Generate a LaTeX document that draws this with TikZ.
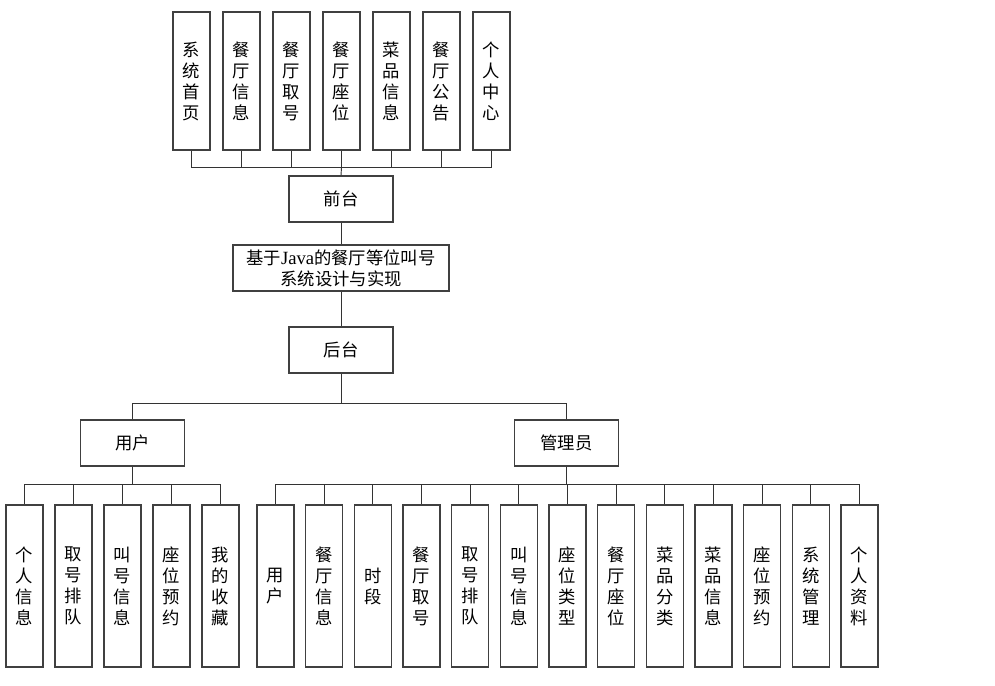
\documentclass[tikz,border=0pt]{standalone}
\usepackage{fontspec}
\setmainfont{Liberation Serif}
\newfontfamily\cjk{Noto Sans CJK SC}
\tikzset{
  box/.style={draw=black!75, line width=0.8pt, fill=white, align=center, inner sep=0pt,
    font=\cjk\fontsize{13}{15.75}\selectfont},
  tallbox/.style={box, minimum width=27.75pt, minimum height=103.5pt},
  lowbox/.style={box, minimum width=27.75pt, minimum height=121.5pt},
  widebox/.style={box, minimum width=78pt, minimum height=34.5pt},
  link/.style={draw=black!80, line width=0.7pt}
}
\begin{document}
\begin{tikzpicture}[x=0.75pt,y=-0.75pt]
\useasboundingbox (0,0) rectangle (995,685);
% front end
\node[tallbox] (xtsy) at (191.5,81) {系\\统\\首\\页};
\node[tallbox] (ctxx) at (241.5,81) {餐\\厅\\信\\息};
\node[tallbox] (ctqh) at (291.5,81) {餐\\厅\\取\\号};
\node[tallbox] (ctzw) at (341.5,81) {餐\\厅\\座\\位};
\node[tallbox] (cpxx) at (391.5,81) {菜\\品\\信\\息};
\node[tallbox] (ctgg) at (441.5,81) {餐\\厅\\公\\告};
\node[tallbox] (grzx) at (491.5,81) {个\\人\\中\\心};
\node[widebox] (qt) at (341,199) {前台};
\node[box, minimum width=162pt, minimum height=34.5pt] (sys) at (341,268)
  {基于{\rmfamily\fontsize{14}{15.75}\selectfont Java}的餐厅等位叫号\\系统设计与实现};
\node[widebox] (ht) at (341,350) {后台};
\node[widebox] (yh) at (132.5,443) {用户};
\node[widebox] (gly) at (566.5,443) {管理员};
% user
\node[lowbox] (u1) at (24.5,586) {个\\人\\信\\息};
\node[lowbox] (u2) at (73.5,586) {取\\号\\排\\队};
\node[lowbox] (u3) at (122.5,586) {叫\\号\\信\\息};
\node[lowbox] (u4) at (171.5,586) {座\\位\\预\\约};
\node[lowbox] (u5) at (220.5,586) {我\\的\\收\\藏};
% admin
\node[lowbox] (a1) at (275.5,586) {用\\户};
\node[lowbox] (a2) at (324.2,586) {餐\\厅\\信\\息};
\node[lowbox] (a3) at (372.8,586) {时\\段};
\node[lowbox] (a4) at (421.5,586) {餐\\厅\\取\\号};
\node[lowbox] (a5) at (470.2,586) {取\\号\\排\\队};
\node[lowbox] (a6) at (518.8,586) {叫\\号\\信\\息};
\node[lowbox] (a7) at (567.5,586) {座\\位\\类\\型};
\node[lowbox] (a8) at (616.2,586) {餐\\厅\\座\\位};
\node[lowbox] (a9) at (664.8,586) {菜\\品\\分\\类};
\node[lowbox] (a10) at (713.5,586) {菜\\品\\信\\息};
\node[lowbox] (a11) at (762.2,586) {座\\位\\预\\约};
\node[lowbox] (a12) at (810.8,586) {系\\统\\管\\理};
\node[lowbox] (a13) at (859.5,586) {个\\人\\资\\料};
% bus points
\coordinate (tb) at (341.5,167);
\coordinate (hb) at (341,403);
\coordinate (ub) at (132.5,484);
\coordinate (ab) at (566.5,484);
% links
\draw[link] (xtsy.south) |- (tb);
\draw[link] (ctxx.south) |- (tb);
\draw[link] (ctqh.south) |- (tb);
\draw[link] (ctzw.south) -- (tb);
\draw[link] (cpxx.south) |- (tb);
\draw[link] (ctgg.south) |- (tb);
\draw[link] (grzx.south) |- (tb);
\draw[link] (tb) -- (qt.north);
\draw[link] (qt) -- (sys);
\draw[link] (sys) -- (ht);
\draw[link] (ht.south) -- (hb);
\draw[link] (hb) -| (yh.north);
\draw[link] (hb) -| (gly.north);
\draw[link] (yh.south) -- (ub);
\draw[link] (ub) -| (u1.north);
\draw[link] (ub) -| (u2.north);
\draw[link] (ub) -| (u3.north);
\draw[link] (ub) -| (u4.north);
\draw[link] (ub) -| (u5.north);
\draw[link] (gly.south) -- (ab);
\draw[link] (ab) -| (a1.north);
\draw[link] (ab) -| (a2.north);
\draw[link] (ab) -| (a3.north);
\draw[link] (ab) -| (a4.north);
\draw[link] (ab) -| (a5.north);
\draw[link] (ab) -| (a6.north);
\draw[link] (ab) -| (a7.north);
\draw[link] (ab) -| (a8.north);
\draw[link] (ab) -| (a9.north);
\draw[link] (ab) -| (a10.north);
\draw[link] (ab) -| (a11.north);
\draw[link] (ab) -| (a12.north);
\draw[link] (ab) -| (a13.north);
\end{tikzpicture}
\end{document}
